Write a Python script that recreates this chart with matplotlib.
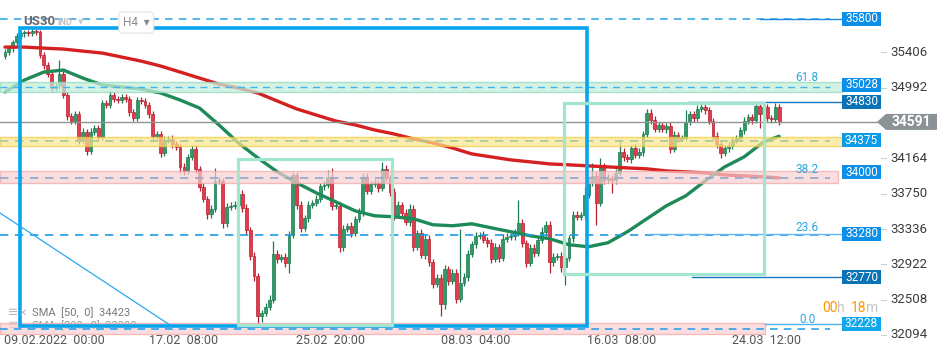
import matplotlib
matplotlib.use('Agg')
import matplotlib.pyplot as plt
from matplotlib.patches import Rectangle, Polygon

plt.rcParams['font.family'] = ['Roboto', 'DejaVu Sans']

# ---------------- data ----------------
first_open = 35363
closes = [
    35410, 35456, 35527, 35597, 35632, 35644, 35632, 35655, 35644, 35375,
    35258, 35152, 34988, 35012, 35152, 34907, 34661, 34602, 34684, 34380,
    34474, 34251, 34474, 34520, 34415, 34813, 34790, 34907, 34860, 34848,
    34883, 34860, 34708, 34637, 34848, 34836, 34790, 34684, 34427, 34450,
    34228, 34380, 34392, 34333, 34298, 34064, 34017, 34181, 34275, 34041,
    33830, 33690, 33514, 33573, 33900, 33900, 33409, 33596, 33608, 33620,
    33748, 33584, 33327, 33023, 32789, 32321, 32356, 32426, 32508, 33046,
    32988, 33011, 32941, 33268, 33970, 33620, 33350, 33467, 33620, 33643,
    33690, 33842, 33853, 33947, 33608, 33608, 33128, 33339, 33374, 33292,
    33456, 33538, 33947, 33783, 33865, 33877, 33818, 34041, 33935, 33772,
    33502, 33620, 33526, 33421, 33573, 33128, 33292, 33035, 33222, 32953,
    32695, 32765, 32461, 32871, 32730, 32824, 32520, 32707, 32777, 33046,
    33163, 33257, 33268, 33210, 33175, 32988, 33128, 32999, 33222, 33245,
    33257, 33292, 33409, 33175, 32941, 33116, 33058, 33210, 33304, 33386,
    32953, 33011, 33023, 32894, 32999, 33233, 33502, 33479, 33502, 33737,
    33889, 33959, 33643, 34064, 33912, 33935, 33912, 33994, 34240, 34181,
    34158, 34286, 34205, 34240, 34450, 34696, 34614, 34509, 34556, 34509,
    34544, 34275, 34439, 34403, 34403, 34591, 34684, 34637, 34743, 34766,
    34731, 34602, 34427, 34333, 34228, 34286, 34310, 34380, 34403, 34497,
    34602, 34649, 34614, 34778, 34684, 34766, 34637, 34626, 34766, 34591,
]
wick_up = [
    30, 40, 30, 40, 30, 25, 30, 40, 30, 30, 40, 30, 40, 30, 160, 40, 35, 40, 30, 30,
    40, 35, 40, 30, 35, 40, 30, 50, 35, 30, 30, 35, 40, 35, 40, 30, 35, 30, 40, 35,
    30, 45, 35, 40, 30, 35, 40, 30, 45, 40, 30, 40, 35, 40, 150, 40, 30, 45, 40, 40,
    35, 40, 45, 30, 40, 30, 35, 40, 50, 150, 40, 35, 45, 40, 35, 40, 50, 35, 40, 30,
    40, 35, 40, 80, 100, 35, 40, 45, 35, 40, 30, 40, 45, 40, 35, 40, 30, 80, 40, 35,
    40, 45, 35, 40, 60, 40, 35, 40, 45, 40, 35, 40, 45, 40, 35, 40, 40, 630, 45, 40,
    35, 40, 30, 40, 35, 45, 40, 35, 50, 40, 35, 40, 270, 40, 35, 45, 40, 35, 50, 40,
    40, 45, 35, 40, 40, 35, 45, 40, 35, 90, 40, 150, 50, 105, 40, 45, 35, 40, 140, 40,
    35, 40, 45, 40, 35, 50, 45, 47, 40, 35, 40, 45, 40, 35, 40, 140, 40, 35, 45, 40,
    40, 35, 40, 45, 35, 40, 45, 40, 35, 40, 45, 40, 35, 50, 40, 45, 40, 35, 47, 40,
]
wick_dn = [
    40, 35, 40, 30, 35, 40, 30, 35, 30, 40, 45, 40, 50, 40, 35, 40, 45, 40, 40, 45,
    40, 50, 40, 35, 45, 35, 40, 35, 40, 30, 35, 40, 45, 40, 35, 40, 35, 45, 60, 40,
    50, 40, 35, 45, 40, 70, 45, 40, 35, 45, 50, 40, 60, 45, 35, 40, 60, 45, 40, 35,
    40, 45, 50, 45, 60, 105, 80, 40, 45, 40, 45, 40, 50, 120, 35, 45, 50, 40, 45, 40,
    35, 40, 45, 40, 45, 40, 60, 45, 40, 50, 40, 35, 45, 40, 35, 40, 45, 40, 35, 45,
    60, 40, 45, 40, 50, 45, 40, 40, 45, 50, 45, 40, 150, 60, 45, 40, 50, 35, 40, 45,
    40, 45, 35, 40, 45, 50, 40, 45, 40, 35, 40, 45, 40, 45, 50, 40, 45, 35, 40, 45,
    130, 45, 40, 60, 210, 40, 45, 35, 40, 45, 40, 45, 257, 40, 45, 40, 150, 45, 40, 45,
    40, 45, 40, 35, 45, 40, 45, 40, 35, 40, 45, 50, 40, 45, 40, 35, 40, 45, 40, 35,
    45, 40, 45, 50, 60, 40, 45, 40, 35, 40, 45, 40, 45, 40, 160, 45, 40, 45, 40, 35,
]
opens = [first_open] + closes[:-1]

sma_idx = list(range(0, 200, 5)) + [199]
sma50 = [34942, 35082, 35176, 35199, 35105, 35024, 35000, 34977, 34930, 34848,
         34754, 34556, 34345, 34169, 34006, 33877, 33760, 33655, 33549, 33491,
         33479, 33456, 33386, 33374, 33397, 33350, 33304, 33257, 33222, 33152,
         33128, 33175, 33304, 33456, 33608, 33725, 33900, 34064, 34181, 34357, 34423]
sma200 = [35468, 35468, 35456, 35445, 35421, 35398, 35351, 35304, 35246, 35176,
          35105, 35035, 34988, 34930, 34836, 34743, 34672, 34602, 34556, 34497,
          34450, 34392, 34345, 34286, 34216, 34181, 34146, 34123, 34099, 34088,
          34076, 34064, 34052, 34041, 34017, 34006, 33994, 33970, 33959, 33947, 33935]

date_idx = [0, 37.3, 75, 112.3, 150, 187.2]
date_labels = ['09.02.2022  00:00', '17.02  08:00', '25.02  20:00',
               '08.03  04:00', '16.03  08:00', '24.03  12:00']
price_ticks = [35406, 34992, 34164, 33750, 33336, 32922, 32508, 32094]

levels = [35800, 35028, 34830, 34375, 34000, 33280, 32770, 32228]
level_box_colors = ['#0b8fe8', '#0b8fe8', '#0a72b5', '#0b9be8',
                    '#0b8fe8', '#0b8fe8', '#0a72b5', '#12a6ec']
last_price = 34591

fib_labels = ['61.8', '38.2', '23.6', '0.0']
fib_label_prices = [35117, 34029, 33350, 32274]

# zones (price bottom, price top)
zone_green = (34942, 35059)
zone_yellow = (34309, 34414)
zone_pink = (33875, 34016)
zone_pink_low = (32105, 32234)

# drawn objects (time index, price)
blue_box_t = [3.9, 149.6]
blue_box_p = [32199, 35692]
green_box1_t = [59.9, 99.5]
green_box1_p = [32211, 34157]
green_box2_t = [143.7, 195.1]
green_box2_p = [32809, 34813]
trend_t = [-1.3, 42.4]
trend_p = [33524, 32211]

# ---------------- layout helpers ----------------
PX0, PXS = 5.0, 3.89          # pixel of candle 0, pixels per candle
PY0, PYS = 36020.0, 11.72     # price at top pixel, price per pixel


def X(px):
    return (px - PX0) / PXS


def Y(py):
    return PY0 - PYS * py


fig = plt.figure(figsize=(9.5, 3.6), dpi=100)
ax = fig.add_axes([0, 0, 1, 1])
ax.set_xlim(X(0), X(950))
ax.set_ylim(Y(360), Y(0))
ax.set_axis_off()

BOX_R = X(842)

# ---------------- candles ----------------
GREEN_F, GREEN_E = '#2e9a68', '#1d7a4e'
RED_F, RED_E = '#e23b4b', '#b8202f'
for i, (o, c) in enumerate(zip(opens, closes)):
    up = c >= o
    hi = max(o, c) + wick_up[i]
    lo = min(o, c) - wick_dn[i]
    ec = GREEN_E if up else RED_E
    fc = GREEN_F if up else RED_F
    ax.vlines(i, lo, hi, color=ec, lw=0.9, zorder=3)
    h = max(abs(c - o), 14)
    ax.bar(i, h, bottom=min(o, c) - (h - abs(c - o)) / 2, width=0.74,
           color=fc, edgecolor=ec, lw=0.5, zorder=3.5)

# ---------------- SMA lines ----------------
ax.plot(sma_idx, sma200, color='#d42020', lw=2.4, zorder=4.5, solid_capstyle='round',
        solid_joinstyle='round')
ax.plot(sma_idx, sma50, color='#1e8a58', lw=2.4, zorder=4.6, solid_capstyle='round',
        solid_joinstyle='round')

# ---------------- zones ----------------
def zone(z, x1, fc, ec, alpha):
    ax.add_patch(Rectangle((X(0), z[0]), x1 - X(0), z[1] - z[0], facecolor=fc,
                           edgecolor=ec, lw=1.0, alpha=alpha, zorder=6))

zone(zone_green, BOX_R, '#c6eedc', '#93d9bb', 0.75)
zone(zone_yellow, BOX_R, '#fbe68d', '#f0c93a', 0.7)
zone(zone_pink, X(838), '#f9cfd1', '#f1a3a6', 0.7)
zone(zone_pink_low, X(765), '#f9cfd1', '#f1a3a6', 0.7)

# dashed lines
ax.plot([X(0), X(830)], [levels[0], levels[0]], color='#29a3e8', lw=1.1,
        dashes=(5, 4), zorder=6.5)
ax.plot([X(760), BOX_R], [levels[0], levels[0]], color='#1e88e5', lw=1.0, zorder=6.5)
ax.plot([X(0), X(830)], [35000, 35000], color='#3fb5ee', lw=1.0, dashes=(5, 4), zorder=6.5)
ax.plot([X(0), X(830)], [34362, 34362], color='#a8c79a', lw=1.2, dashes=(5, 4), zorder=6.5)
ax.plot([X(0), X(830)], [33934, 33934], color='#8fa9cc', lw=1.2, dashes=(5, 4), zorder=6.5)
ax.plot([X(0), X(830)], [33266, 33266], color='#1e9be8', lw=1.2, dashes=(5, 4), zorder=6.5)
ax.plot([X(648), BOX_R], [33274, 33274], color='#64b5f6', lw=1.0, zorder=6.5)
ax.plot([X(0), X(830)], [32164, 32164], color='#1e9be8', lw=1.1, dashes=(5, 4), zorder=6.5)
ax.plot([X(765), BOX_R], [levels[7], levels[7]], color='#4fb3f0', lw=1.0, zorder=6.5)
ax.plot([X(688), BOX_R], [levels[2], levels[2]], color='#1676c0', lw=1.0, zorder=6.5)
ax.plot([X(692), BOX_R], [levels[6], levels[6]], color='#1676c0', lw=1.0, zorder=6.5)
ax.plot([X(0), X(878)], [last_price, last_price], color='#8c9497', lw=1.0, zorder=6.5)

# ---------------- drawn rectangles / trend line ----------------
ax.add_patch(Rectangle((blue_box_t[0], blue_box_p[0]), blue_box_t[1] - blue_box_t[0],
                       blue_box_p[1] - blue_box_p[0], fill=False, edgecolor='#07a5ee',
                       lw=2.6, zorder=7))
for bt, bp in [(green_box1_t, green_box1_p), (green_box2_t, green_box2_p)]:
    ax.add_patch(Rectangle((bt[0], bp[0]), bt[1] - bt[0], bp[1] - bp[0], fill=False,
                           edgecolor='#a3e6cf', lw=2.3, zorder=7))
ax.plot(trend_t, trend_p, color='#29a8ef', lw=0.9, zorder=7)

# ---------------- fib labels ----------------
for lab, p in zip(fib_labels, fib_label_prices):
    ax.text(X(807), p, lab, color='#29a8e0', fontsize=8.5, ha='center', va='center',
            zorder=8)

# ---------------- level boxes ----------------
bh = 14 * PYS
for lvl, col in zip(levels, level_box_colors):
    ax.add_patch(Rectangle((BOX_R, lvl - bh / 2), X(881) - BOX_R, bh, facecolor=col,
                           edgecolor='none', zorder=9))
    ax.text((BOX_R + X(881)) / 2, lvl, str(lvl), color='white', fontsize=8.5,
            ha='center', va='center', zorder=10)

# last price arrow
h2 = 8 * PYS
ax.add_patch(Polygon([(X(877), last_price), (X(886), last_price + h2),
                      (X(937), last_price + h2), (X(937), last_price - h2),
                      (X(886), last_price - h2)], closed=True, facecolor='#8a9295',
                     edgecolor='none', zorder=9))
ax.text(X(911), last_price, str(last_price), color='white', fontsize=10,
        fontweight='bold', ha='center', va='center', zorder=10)

# ---------------- price axis ----------------
for p in price_ticks:
    ax.plot([X(881), X(886)], [p, p], color='#cfcfcf', lw=0.8, zorder=2)
    ax.text(X(890), p, str(p), color='#3c3c3c', fontsize=9.5, ha='left', va='center')

# ---------------- date axis ----------------
for d, lab in zip(date_idx, date_labels):
    ax.text(d - 0.3, Y(341), lab, color='#555555', fontsize=9, ha='left', va='center')

# ---------------- header ----------------
ax.text(X(23), Y(22), 'US30', color='#6a6a6a', fontsize=9.5, fontweight='bold',
        ha='left', va='center', zorder=11)
ax.text(X(57), Y(23), 'IND', color='#c2c2c2', fontsize=6.5, fontweight='bold',
        ha='left', va='center', zorder=11)
ax.text(X(78), Y(22), '▾', color='#cccccc', fontsize=8, ha='left', va='center',
        zorder=11)
ax.text(X(123), Y(22.5), 'H4  ▾', color='#8a8a8a', fontsize=8.5, ha='left', va='center',
        zorder=11, bbox=dict(boxstyle='round,pad=0.35', fc='white', ec='#e2e2e2', lw=0.8))

# ---------------- legend ----------------
ax.text(X(8), Y(313), '≡', color='#b5b5b5', fontsize=9, ha='left', va='center', zorder=11)
ax.text(X(19), Y(313), '✕', color='#b5b5b5', fontsize=7, ha='left', va='center', zorder=11)
ax.text(X(32), Y(313), 'SMA  [50,  0]  34423', color='#7a7a7a', fontsize=8,
        ha='left', va='center', zorder=11)
ax.text(X(8), Y(326), '≡', color='#c8c8c8', fontsize=9, ha='left', va='center', zorder=5)
ax.text(X(32), Y(326), 'SMA  [200,  0]  33930', color='#9a9a9a', fontsize=8,
        ha='left', va='center', zorder=5)

# ---------------- timer ----------------
ax.text(X(822), Y(308), '00', color='#ff9800', fontsize=10, ha='left', va='center', zorder=11)
ax.text(X(837), Y(308), 'h', color='#c4c4c4', fontsize=10, ha='left', va='center', zorder=11)
ax.text(X(851), Y(308), '18', color='#ff9800', fontsize=10, ha='left', va='center', zorder=11)
ax.text(X(866), Y(308), 'm', color='#c4c4c4', fontsize=10, ha='left', va='center', zorder=11)

fig.savefig('out.png', dpi=100, facecolor='white')
